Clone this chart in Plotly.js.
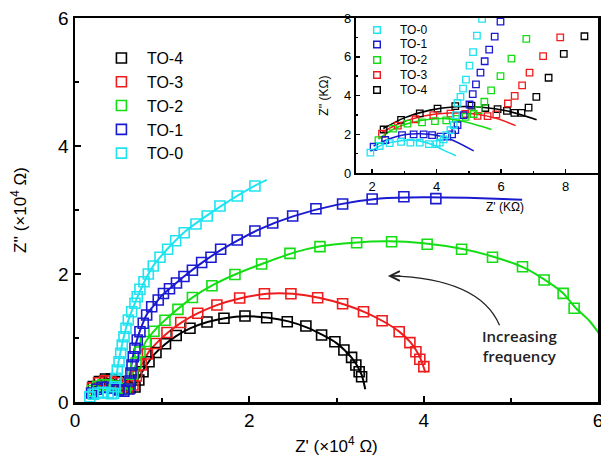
<!DOCTYPE html>
<html>
<head>
<meta charset="utf-8">
<script src="https://cdn.plot.ly/plotly-3.0.1.min.js"></script>
<style>html,body{margin:0;padding:0;background:#fff;}#chart{width:601px;height:469px;}</style>
</head>
<body>
<div id="chart"></div>
<script>
// ---------- series names and colours ----------
const names = ["TO-0", "TO-1", "TO-2", "TO-3", "TO-4"];
const colors = ["#1fe3f0", "#1a1ad0", "#14dd14", "#ee1c1c", "#000000"];

// ---------- main plot: measured points (x10^4 Ohm) ----------
const to0X = [0.17,0.21,0.26,0.32,0.38,0.42,0.44,0.459,0.470,0.485,0.505,0.524,0.542,0.562,0.585,0.611,0.650,0.688,0.714,0.745,0.791,0.841,0.898,0.975,1.063,1.155,1.253,1.388,1.517,1.663,1.861,2.064];
const to0Y = [0.08,0.12,0.14,0.15,0.14,0.13,0.136,0.239,0.37,0.50,0.63,0.761,0.891,1.02,1.152,1.281,1.411,1.542,1.645,1.761,1.88,2.0,2.125,2.261,2.386,2.52,2.645,2.781,2.906,3.063,3.219,3.375];
const to1X = [0.19,0.25,0.31,0.37,0.43,0.50,0.56,0.619,0.631,0.642,0.654,0.669,0.688,0.714,0.745,0.783,0.822,0.880,0.955,1.015,1.084,1.164,1.250,1.347,1.453,1.560,1.671,1.861,2.064,2.268,2.497,2.764,3.070,3.409,3.773,4.140];
const to1Y = [0.14,0.20,0.23,0.23,0.22,0.19,0.17,0.203,0.328,0.453,0.578,0.708,0.839,0.969,1.098,1.230,1.359,1.489,1.594,1.695,1.770,1.859,1.961,2.058,2.180,2.261,2.386,2.531,2.672,2.797,2.906,3.020,3.094,3.172,3.208,3.177];
const to2X = [0.20,0.26,0.32,0.38,0.45,0.52,0.58,0.619,0.662,0.700,0.745,0.808,0.906,1.032,1.181,1.347,1.571,1.835,2.141,2.466,2.810,3.231,3.632,4.040,4.435,4.790,5.134,5.382,5.600,5.726];
const to2Y = [0.18,0.24,0.27,0.27,0.25,0.21,0.20,0.281,0.4375,0.609,0.781,0.945,1.106,1.277,1.448,1.633,1.816,1.992,2.156,2.323,2.427,2.489,2.505,2.464,2.386,2.261,2.114,1.906,1.698,1.464];
const to3X = [0.20,0.27,0.34,0.41,0.48,0.55,0.61,0.665,0.705,0.759,0.831,0.929,1.055,1.213,1.408,1.628,1.889,2.173,2.477,2.784,3.070,3.310,3.523,3.719,3.842,3.911,3.956,4.002];
const to3Y = [0.22,0.30,0.33,0.33,0.30,0.24,0.21,0.266,0.406,0.578,0.750,0.914,1.086,1.242,1.386,1.516,1.625,1.691,1.691,1.628,1.536,1.411,1.270,1.098,0.927,0.786,0.667,0.552];
const to4X = [0.21,0.28,0.35,0.42,0.50,0.57,0.63,0.688,0.732,0.780,0.849,0.929,1.038,1.161,1.319,1.514,1.709,1.950,2.199,2.435,2.649,2.829,2.982,3.085,3.173,3.222,3.260,3.288];
const to4Y = [0.24,0.32,0.36,0.36,0.32,0.26,0.22,0.234,0.344,0.473,0.630,0.773,0.911,1.039,1.152,1.250,1.308,1.344,1.317,1.255,1.1875,1.047,0.942,0.8125,0.698,0.578,0.473,0.395];

// ---------- main plot: fitted curves ----------
const fit0X = [0.17,0.28,0.40,0.44,0.47,0.50,0.54,0.59,0.65,0.72,0.80,0.90,1.06,1.25,1.50,1.80,2.05,2.20];
const fit0Y = [0.08,0.15,0.14,0.16,0.36,0.63,0.90,1.18,1.42,1.65,1.89,2.13,2.39,2.65,2.90,3.17,3.37,3.47];
const fit1X = [0.19,0.31,0.45,0.56,0.60,0.63,0.66,0.70,0.75,0.82,0.90,1.00,1.12,1.25,1.45,1.68,1.90,2.10,2.50,3.00,3.50,4.00,4.50,5.13];
const fit1Y = [0.14,0.23,0.22,0.17,0.20,0.42,0.68,0.92,1.13,1.36,1.50,1.67,1.81,1.96,2.17,2.38,2.55,2.69,2.90,3.08,3.18,3.20,3.19,3.16];
const fit2X = [0.20,0.32,0.45,0.58,0.61,0.64,0.67,0.71,0.76,0.82,0.90,1.00,1.15,1.35,1.60,1.85,2.15,2.50,2.80,3.20,3.60,4.00,4.45,4.80,5.15,5.40,5.60,5.75,5.90,6.05];
const fit2Y = [0.18,0.27,0.25,0.20,0.25,0.36,0.47,0.63,0.80,0.96,1.10,1.24,1.42,1.635,1.84,2.00,2.16,2.33,2.43,2.49,2.51,2.48,2.39,2.27,2.10,1.90,1.70,1.46,1.27,1.00];
const fit3X = [0.20,0.34,0.48,0.60,0.64,0.68,0.72,0.78,0.85,0.95,1.07,1.22,1.40,1.62,1.90,2.20,2.50,2.80,3.10,3.35,3.55,3.72,3.85,3.95,4.02];
const fit3Y = [0.22,0.33,0.30,0.21,0.20,0.32,0.45,0.62,0.79,0.94,1.09,1.24,1.38,1.51,1.62,1.69,1.69,1.63,1.52,1.39,1.25,1.10,0.93,0.72,0.46];
const fit4X = [0.21,0.35,0.50,0.63,0.67,0.71,0.76,0.83,0.92,1.03,1.16,1.32,1.52,1.72,1.95,2.20,2.45,2.65,2.85,3.00,3.10,3.18,3.24,3.29,3.33];
const fit4Y = [0.24,0.36,0.32,0.22,0.23,0.33,0.45,0.60,0.76,0.90,1.03,1.15,1.25,1.31,1.34,1.32,1.26,1.17,1.04,0.92,0.80,0.68,0.56,0.42,0.20];

// ---------- inset: measured points (kOhm) ----------
const in0X = [1.95,2.24,2.55,2.90,3.19,3.48,3.76,4.00,4.10,4.22,4.30,4.43,4.53,4.60,4.65,4.74,4.82,4.91,5.02,5.13,5.25,5.41];
const in0Y = [1.06,1.40,1.55,1.61,1.57,1.57,1.50,1.50,1.57,1.74,1.96,2.22,2.48,2.99,3.62,3.93,4.36,4.82,5.54,6.24,7.09,7.95];
const in1X = [2.05,2.41,2.93,3.29,3.60,3.86,4.12,4.33,4.48,4.58,4.65,4.84,5.02,5.12,5.22,5.36,5.49,5.63,5.80,5.98];
const in1Y = [1.36,1.71,1.96,2.00,2.00,1.96,1.88,1.88,2.00,2.22,2.48,2.99,3.54,4.07,4.58,5.18,5.77,6.37,7.04,7.81];
const in2X = [2.20,2.65,3.10,3.55,3.95,4.30,4.60,4.90,5.15,5.30,5.48,5.69,5.98,6.32,6.78];
const in2Y = [1.70,2.30,2.55,2.62,2.68,2.72,2.80,2.90,3.05,3.25,3.68,4.27,5.00,5.90,6.92];
const in3X = [2.31,2.80,3.35,3.90,4.43,4.89,5.27,5.58,5.85,6.21,6.42,6.65,6.88,7.30,7.83];
const in3Y = [2.03,2.45,2.78,2.99,3.07,3.05,2.95,2.94,3.03,3.59,3.98,4.53,5.18,6.03,7.00];
const in4X = [2.36,2.90,3.48,4.03,4.58,5.08,5.51,5.89,6.18,6.41,6.63,6.85,7.09,7.47,7.94,8.58];
const in4Y = [2.25,2.75,3.08,3.33,3.46,3.48,3.36,3.30,3.21,3.11,3.11,3.38,3.93,4.92,6.15,7.06];

// ---------- inset: fitted curves ----------
const inFit0X = [1.95,2.30,2.70,3.10,3.50,3.90,4.20,4.60];
const inFit0Y = [1.10,1.45,1.62,1.70,1.65,1.45,1.20,0.90];
const inFit1X = [2.05,2.50,3.00,3.50,4.00,4.50,5.15];
const inFit1Y = [1.40,1.75,1.98,2.03,1.95,1.70,1.15];
const inFit2X = [2.20,2.70,3.20,3.80,4.40,5.00,5.70];
const inFit2Y = [1.75,2.30,2.60,2.78,2.80,2.60,2.25];
const inFit3X = [2.30,2.90,3.60,4.40,5.20,5.90,6.45];
const inFit3Y = [2.10,2.60,2.95,3.10,3.05,2.80,2.45];
const inFit4X = [2.35,3.00,3.80,4.60,5.40,6.20,7.10];
const inFit4Y = [2.30,2.85,3.25,3.42,3.40,3.20,2.75];

// ---------- axis ticks ----------
const mainTicks = [0, 2, 4, 6];
const insetXTicks = [2, 4, 6, 8];
const insetYTicks = [0, 2, 4, 6, 8];

const mainPts = [[to0X,to0Y],[to1X,to1Y],[to2X,to2Y],[to3X,to3Y],[to4X,to4Y]];
const mainFits = [[fit0X,fit0Y],[fit1X,fit1Y],[fit2X,fit2Y],[fit3X,fit3Y],[fit4X,fit4Y]];
const inPts = [[in0X,in0Y],[in1X,in1Y],[in2X,in2Y],[in3X,in3Y],[in4X,in4Y]];
const inFits = [[inFit0X,inFit0Y],[inFit1X,inFit1Y],[inFit2X,inFit2Y],[inFit3X,inFit3Y],[inFit4X,inFit4Y]];

const FONT = "Liberation Sans, Arial, sans-serif";
const traces = [];
for (let k = 4; k >= 0; k--) {
  traces.push({x: mainFits[k][0], y: mainFits[k][1], type: "scatter", mode: "lines",
    line: {color: colors[k], width: 2, shape: "spline", smoothing: 0.7},
    showlegend: false, hoverinfo: "skip", xaxis: "x", yaxis: "y"});
}
for (let k = 4; k >= 0; k--) {
  traces.push({x: mainPts[k][0], y: mainPts[k][1], type: "scatter", mode: "markers",
    name: names[k], legendrank: 5 - k,
    marker: {symbol: "square-open", size: 10, color: colors[k], line: {width: 1.6, color: colors[k]}},
    xaxis: "x", yaxis: "y"});
}
for (let k = 4; k >= 0; k--) {
  traces.push({x: inFits[k][0], y: inFits[k][1], type: "scatter", mode: "lines",
    line: {color: colors[k], width: 1.6, shape: "spline", smoothing: 0.8},
    showlegend: false, hoverinfo: "skip", xaxis: "x2", yaxis: "y2"});
}
for (let k = 4; k >= 0; k--) {
  traces.push({x: inPts[k][0], y: inPts[k][1], type: "scatter", mode: "markers",
    name: names[k], showlegend: false,
    marker: {symbol: "square-open", size: 6.5, color: colors[k], line: {width: 1.3, color: colors[k]}},
    xaxis: "x2", yaxis: "y2"});
}

// ---------- inset key (compact, drawn as text + swatches) ----------
const keyRowsPx = [30, 44.5, 60, 75, 90];   // row centres, px from top
const keySwatchPx = 377, keyTextPx = 398;
const plotL = 75, plotW = 523, plotB = 402, plotH = 384;
const shapes = [{type: "path", xref: "x", yref: "y",
  path: "M 4.87,1.20 Q 4.64,1.93 3.62,1.97",
  line: {color: "#222", width: 1.3}}];
const annotations = [
  {x: 0.822, y: 0.508, xref: "paper", yref: "paper", text: "Z' (KΩ)", showarrow: false,
   xanchor: "center", yanchor: "middle", font: {family: FONT, size: 12, color: "#000"}},
  {x: 5.1, y: 0.88, xref: "x", yref: "y", text: "Increasing<br>frequency", showarrow: false,
   font: {family: "Open Sans, sans-serif", size: 15, color: "#222", weight: 600}},
  {x: 3.59, y: 1.97, xref: "x", yref: "y", ax: 14, ay: 0, text: "", showarrow: true,
   arrowhead: 5, arrowsize: 1.6, arrowwidth: 1.2, arrowcolor: "#222"}
];
names.forEach((nm, k) => {
  const yc = (plotB - keyRowsPx[k]) / plotH;
  const hx = 3.3 / plotW, hy = 3.3 / plotH;
  const xc = (keySwatchPx - plotL) / plotW;
  shapes.push({type: "rect", xref: "paper", yref: "paper", x0: xc - hx, x1: xc + hx, y0: yc - hy, y1: yc + hy,
    line: {color: colors[k], width: 1.4}, fillcolor: "rgba(0,0,0,0)", layer: "above"});
  annotations.push({x: (keyTextPx - plotL) / plotW, y: yc, xref: "paper", yref: "paper", text: nm,
    showarrow: false, xanchor: "left", yanchor: "middle", font: {family: FONT, size: 12, color: "#000"}});
});

const mainAxis = {
  showline: true, linewidth: 2.5, linecolor: "#000", mirror: true,
  showgrid: false, zeroline: false,
  ticks: "inside", ticklen: 6, tickwidth: 2, tickcolor: "#000",
  minor: {ticks: "inside", ticklen: 4, tickwidth: 2, dtick: 1, tick0: 0, tickcolor: "#000"},
  tickfont: {family: FONT, size: 19, color: "#000"},
  ticklabeloverflow: "allow",
  range: [0, 6], tickvals: mainTicks
};
const insetAxis = {
  showline: true, linewidth: 2, linecolor: "#000", mirror: true,
  showgrid: false, zeroline: false,
  ticks: "inside", ticklen: 4, tickwidth: 1.5, tickcolor: "#000",
  minor: {ticks: "inside", ticklen: 2.5, tickwidth: 1.5, dtick: 1, tick0: 0, tickcolor: "#000"},
  tickfont: {family: FONT, size: 13, color: "#000"},
  ticklabeloverflow: "allow"
};

const layout = {
  width: 601, height: 469,
  margin: {l: 75, r: 3, t: 18, b: 67},
  paper_bgcolor: "#fff", plot_bgcolor: "#fff",
  showlegend: true,
  xaxis: Object.assign({}, mainAxis, {domain: [0, 1], anchor: "y",
    title: {text: "Z' (×10<sup>4</sup> Ω)", font: {family: FONT, size: 17, color: "#000"}, standoff: 10}}),
  yaxis: Object.assign({}, mainAxis, {domain: [0, 1], anchor: "x",
    title: {text: "Z'' (×10<sup>4</sup> Ω)", font: {family: FONT, size: 17, color: "#000"}, standoff: 27}}),
  xaxis2: Object.assign({}, insetAxis, {domain: [0.537, 1], anchor: "y2", range: [1.5, 9], tickvals: insetXTicks}),
  yaxis2: Object.assign({}, insetAxis, {domain: [0.596, 1], anchor: "x2", range: [0, 8], tickvals: insetYTicks,
    title: {text: "Z'' (KΩ)", font: {family: FONT, size: 12, color: "#000"}, standoff: 13}}),
  legend: {x: 0.040, y: 0.94, xanchor: "left", yanchor: "top", bgcolor: "rgba(0,0,0,0)",
    font: {family: FONT, size: 16, color: "#000"}, itemwidth: 41, tracegroupgap: 0},
  shapes: shapes,
  annotations: annotations
};

Plotly.newPlot("chart", traces, layout, {displayModeBar: false, staticPlot: true});
</script>
</body>
</html>
